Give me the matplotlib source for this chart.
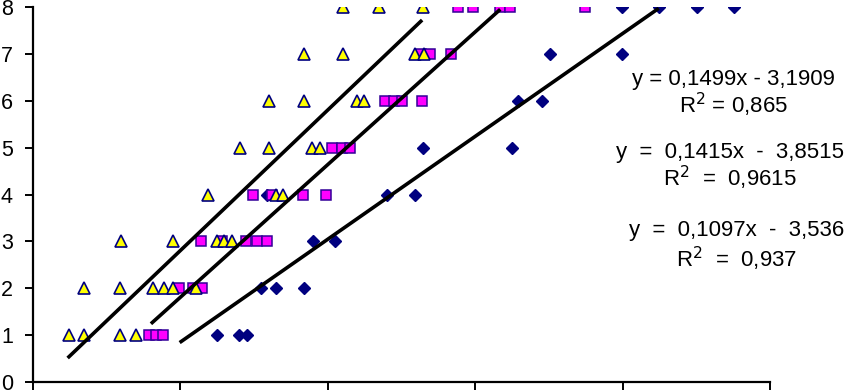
import matplotlib
matplotlib.use("Agg")
import matplotlib.pyplot as plt
import numpy as np

plt.rcParams['font.family'] = ['Liberation Sans', 'DejaVu Sans']

# Series 1: diamonds (navy)
dia_x = [45.0, 48.0, 49.0, 50.9, 53.0, 56.8, 58.0, 61.0, 51.8, 68.0, 71.8,
         72.9, 85.0, 85.8, 89.1, 90.1, 99.9, 99.9, 104.9, 110.1, 115.1]
dia_y = [1, 1, 1, 2, 2, 2, 3, 3, 4, 4, 4, 5, 5, 6, 6, 7, 7, 8, 8, 8, 8]

# Series 2: squares (magenta)
sq_x = [35.7, 36.7, 37.6, 39.8, 41.7, 42.9, 42.8, 45.6, 48.9, 50.4, 51.8,
        49.9, 52.4, 56.6, 59.8, 60.6, 61.9, 63.0, 67.8, 69.0, 70.1, 72.8,
        72.6, 73.9, 76.7, 77.7, 79.7, 83.4, 84.7, 94.9]
sq_y = [1, 1, 1, 2, 2, 2, 3, 3, 3, 3, 3, 4, 4, 4, 4, 5, 5, 5, 6, 6, 6, 6,
        7, 7, 7, 8, 8, 8, 8, 8]

# Series 3: triangles (yellow)
tri_x = [24.9, 26.9, 31.8, 34.0, 26.9, 31.8, 36.3, 37.8, 39.0, 42.1,
         31.9, 39.0, 45.0, 45.9, 47.0, 43.7, 53.0, 53.9, 48.1, 52.0, 57.9, 58.9,
         52.0, 56.8, 64.0, 64.9, 56.8, 62.1, 71.8, 73.1, 62.1, 66.9, 72.9]
tri_y = [1, 1, 1, 1, 2, 2, 2, 2, 2, 2, 3, 3, 3, 3, 3, 4, 4, 4, 5, 5, 5, 5,
         6, 6, 6, 6, 7, 7, 7, 7, 8, 8, 8]

# Linear trendlines: slope, intercept, x-range
tri_fit = (0.1499, -3.1909, 24.7, 72.8)
sq_fit = (0.1415, -3.8515, 36.0, 83.4)
dia_fit = (0.1097, -3.536, 39.9, 104.9)

labels = [("y = 0,1499x - 3,1909", "R$^2$ = 0,865"),
          ("y  =  0,1415x  -  3,8515", "R$^2$  =  0,9615"),
          ("y  =  0,1097x  -  3,536", "R$^2$  =  0,937")]

W, H = 845, 391
fig = plt.figure(figsize=(W / 100, H / 100), dpi=100)
ax = fig.add_axes([33 / W, (H - 382) / H, (770 - 33) / W, (382 - 7) / H])
ax.set_xlim(20, 120)
ax.set_ylim(0, 8)

navy = '#000080'
ax.plot(dia_x, dia_y, linestyle='none', marker='D', markersize=6.0,
        markerfacecolor=navy, markeredgecolor=navy, markeredgewidth=1.0, zorder=3)
ax.plot(sq_x, sq_y, linestyle='none', marker='s', markersize=7.0,
        markerfacecolor='#FF00FF', markeredgecolor='#330099', markeredgewidth=1.1, zorder=4)
ax.plot(tri_x, tri_y, linestyle='none', marker='^', markersize=9.3,
        markerfacecolor='#FFFF00', markeredgecolor=navy, markeredgewidth=1.2, zorder=5)

for m, b, x0, x1 in (tri_fit, sq_fit, dia_fit):
    xs = np.array([x0, x1])
    ax.plot(xs, m * xs + b, color='black', linewidth=2.6, zorder=6,
            solid_capstyle='butt')

for s in ('top', 'right'):
    ax.spines[s].set_visible(False)
for s in ('left', 'bottom'):
    ax.spines[s].set_linewidth(1.6)
    ax.spines[s].set_color('black')

ax.set_xticks(np.arange(20, 121, 20))
ax.set_yticks(np.arange(0, 9, 1))
ax.tick_params(axis='x', direction='out', length=6, width=1.4, labelbottom=False)
ax.tick_params(axis='y', direction='out', length=6, width=1.4, pad=8.5,
               labelsize=15.5)

pos = [(733, 80, 105), (730, 153, 178), (737, 231, 259)]
for (eq, r2), (cx, y1, y2) in zip(labels, pos):
    fig.text(cx / W, 1 - y1 / H, eq, ha='center', va='center', fontsize=16)
    fig.text(cx / W, 1 - y2 / H, r2, ha='center', va='center', fontsize=16)

fig.savefig('out.png', dpi=100)
